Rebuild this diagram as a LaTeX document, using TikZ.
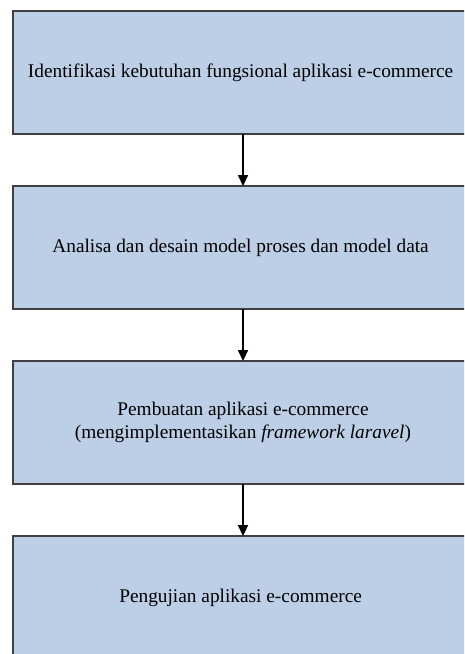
\documentclass[tikz,border=0pt]{standalone}
\usepackage{fontspec}
\setmainfont{Liberation Serif}
\usepackage{tikz}
\usetikzlibrary{positioning, arrows.meta}
\definecolor{boxblue}{RGB}{188,207,231}
\definecolor{boxline}{RGB}{64,64,64}

\begin{document}
\begin{tikzpicture}[
    >={Triangle[width=6pt, length=6.5pt]},
    node distance=31.2pt,
    every node/.style={align=center},
    stage/.style={draw=boxline, line width=0.9pt, fill=boxblue, outer sep=0pt,
        minimum width=276pt, minimum height=73.8pt, font=\fontsize{11.6}{14}\selectfont},
    arrow/.style={->, line width=0.8pt, black}
]

% Rahmen (Bild ist rechts und unten abgeschnitten)
\useasboundingbox (0,0) rectangle (278.4pt,-392.4pt);
\clip (0,0) rectangle (278.4pt,-392.4pt);

% Stufe 1
\node[stage] (identifikasi) at (145.8pt,-43.5pt) {
    Identifikasi kebutuhan fungsional aplikasi e-commerce
};

% Stufe 2
\node[stage, below=of identifikasi] (analisa) {
    Analisa dan desain model proses dan model data
};
\draw[arrow] (identifikasi) -- (analisa);

% Stufe 3
\node[stage, below=of analisa] (pembuatan) {
    Pembuatan aplikasi e-commerce\\
    (mengimplementasikan \textit{framework laravel})
};
\draw[arrow] (analisa) -- (pembuatan);

% Stufe 4
\node[stage, below=of pembuatan] (pengujian) {
    Pengujian aplikasi e-commerce
};
\draw[arrow] (pembuatan) -- (pengujian);

\end{tikzpicture}
\end{document}
